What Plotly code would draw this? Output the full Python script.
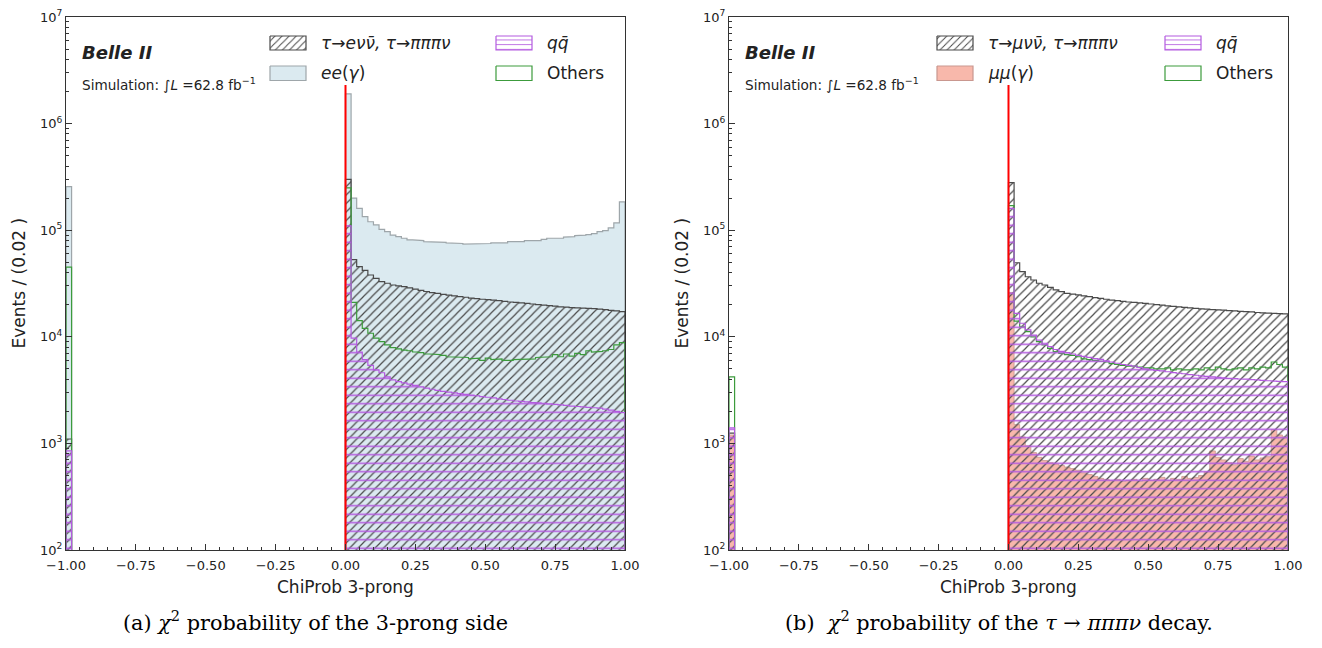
import numpy as np
import plotly.graph_objects as go

# ---------------------------------------------------------------- binning
BIN = 0.02
EDGES = np.round(np.arange(0.0, 1.0 + BIN / 2, BIN), 4)      # 0.00 ... 1.00
UNDER_EDGES = [-1.0, -0.98]                                    # first bin
Y_RANGE = [2, 7]                                               # log10 limits
FLOOR = 10.0                                                   # below the axis
CUT_X = 0.0
CUT_TOP = 2.3e6

x_ticks = [-1.0, -0.75, -0.5, -0.25, 0.0, 0.25, 0.5, 0.75, 1.0]
y_ticks = [1e2, 1e3, 1e4, 1e5, 1e6, 1e7]
y_tick_text = ["10<sup>2</sup>", "10<sup>3</sup>", "10<sup>4</sup>",
               "10<sup>5</sup>", "10<sup>6</sup>", "10<sup>7</sup>"]

# ------------------------------------------------ (a) tau -> e nu nu sample
ee_a = [1.9e6, 2.0e5, 1.6e5, 1.34e5, 1.2e5, 1.12e5, 1.02e5, 9.7e4, 9.0e4, 8.7e4,
        8.4e4, 8.1e4, 8.1e4, 8.0e4, 7.8e4, 7.8e4, 7.7e4, 7.7e4, 7.6e4, 7.5e4,
        7.5e4, 7.4e4, 7.5e4, 7.4e4, 7.5e4, 7.5e4, 7.6e4, 7.5e4, 7.6e4, 7.8e4,
        7.7e4, 7.8e4, 8.0e4, 8.1e4, 8.0e4, 8.2e4, 8.4e4, 8.5e4, 8.4e4, 8.6e4,
        8.7e4, 8.9e4, 9.0e4, 9.1e4, 9.3e4, 9.7e4, 9.9e4, 1.05e5, 1.17e5, 1.84e5]
tau_a = [3.0e5, 5.3e4, 4.55e4, 4.2e4, 3.8e4, 3.54e4, 3.29e4, 3.18e4, 3.06e4, 3.0e4,
         2.95e4, 2.88e4, 2.8e4, 2.72e4, 2.66e4, 2.6e4, 2.56e4, 2.5e4, 2.46e4, 2.42e4,
         2.38e4, 2.35e4, 2.31e4, 2.28e4, 2.25e4, 2.23e4, 2.21e4, 2.18e4, 2.15e4, 2.12e4,
         2.1e4, 2.08e4, 2.06e4, 2.03e4, 2.0e4, 1.98e4, 1.96e4, 1.94e4, 1.91e4, 1.9e4,
         1.88e4, 1.87e4, 1.86e4, 1.85e4, 1.84e4, 1.82e4, 1.8e4, 1.77e4, 1.75e4, 1.72e4]
others_a = [2.5e5, 2.1e4, 1.42e4, 1.2e4, 1.08e4, 9.7e3, 9.0e3, 8.4e3, 7.9e3, 7.7e3,
            7.5e3, 7.4e3, 7.2e3, 7.1e3, 6.9e3, 6.9e3, 6.8e3, 6.7e3, 6.5e3, 6.5e3,
            6.4e3, 6.4e3, 6.2e3, 6.3e3, 6.0e3, 6.3e3, 6.1e3, 6.2e3, 6.0e3, 6.0e3,
            6.1e3, 6.1e3, 6.2e3, 6.2e3, 6.4e3, 6.4e3, 6.5e3, 6.8e3, 6.5e3, 6.9e3,
            6.6e3, 7.0e3, 6.8e3, 7.4e3, 7.2e3, 7.3e3, 7.4e3, 7.6e3, 8.4e3, 8.8e3]
qq_a = [1.1e5, 9.7e3, 7.2e3, 6.1e3, 5.4e3, 4.9e3, 4.6e3, 4.2e3, 3.95e3, 3.8e3,
        3.7e3, 3.6e3, 3.5e3, 3.4e3, 3.3e3, 3.22e3, 3.15e3, 3.08e3, 3.03e3, 2.98e3,
        2.93e3, 2.88e3, 2.84e3, 2.8e3, 2.75e3, 2.71e3, 2.67e3, 2.62e3, 2.58e3, 2.54e3,
        2.5e3, 2.48e3, 2.45e3, 2.42e3, 2.4e3, 2.38e3, 2.35e3, 2.32e3, 2.3e3, 2.27e3,
        2.24e3, 2.22e3, 2.2e3, 2.18e3, 2.16e3, 2.14e3, 2.1e3, 2.05e3, 2.0e3, 1.95e3]
ee_a_under = [2.56e5]
tau_a_under = [1.1e3]
others_a_under = [4.5e4]
qq_a_under = [8.5e2]

# ----------------------------------------------- (b) tau -> mu nu nu sample
tau_b = [2.8e5, 4.95e4, 4.08e4, 3.66e4, 3.41e4, 3.18e4, 3.06e4, 2.91e4, 2.75e4, 2.65e4,
         2.56e4, 2.51e4, 2.47e4, 2.42e4, 2.38e4, 2.33e4, 2.29e4, 2.25e4, 2.21e4, 2.18e4,
         2.15e4, 2.12e4, 2.1e4, 2.08e4, 2.06e4, 2.03e4, 2.0e4, 1.98e4, 1.95e4, 1.93e4,
         1.91e4, 1.89e4, 1.87e4, 1.85e4, 1.83e4, 1.82e4, 1.8e4, 1.79e4, 1.78e4, 1.76e4,
         1.75e4, 1.73e4, 1.72e4, 1.71e4, 1.69e4, 1.68e4, 1.67e4, 1.66e4, 1.65e4, 1.64e4]
others_b = [1.7e5, 1.4e4, 1.24e4, 1.12e4, 1.0e4, 9.0e3, 8.4e3, 7.8e3, 7.25e3, 7.0e3,
            6.8e3, 6.7e3, 6.5e3, 6.2e3, 6.1e3, 6.0e3, 5.9e3, 5.8e3, 5.6e3, 5.5e3,
            5.4e3, 5.3e3, 5.3e3, 5.2e3, 5.1e3, 5.1e3, 5.0e3, 5.0e3, 5.1e3, 4.9e3,
            5.0e3, 4.9e3, 4.9e3, 5.0e3, 4.9e3, 5.1e3, 4.9e3, 5.2e3, 5.0e3, 4.9e3,
            5.0e3, 5.1e3, 4.9e3, 5.1e3, 5.0e3, 5.2e3, 5.1e3, 5.8e3, 5.5e3, 5.2e3]
qq_b = [1.6e5, 1.66e4, 1.34e4, 1.16e4, 1.04e4, 9.3e3, 8.7e3, 8.1e3, 7.6e3, 7.3e3,
        7.1e3, 6.9e3, 6.7e3, 6.55e3, 6.4e3, 6.25e3, 6.15e3, 5.95e3, 5.8e3, 5.65e3,
        5.5e3, 5.4e3, 5.3e3, 5.15e3, 5.0e3, 4.92e3, 4.85e3, 4.78e3, 4.7e3, 4.62e3,
        4.55e3, 4.5e3, 4.42e3, 4.36e3, 4.3e3, 4.25e3, 4.2e3, 4.16e3, 4.12e3, 4.08e3,
        4.05e3, 4.02e3, 4.0e3, 3.97e3, 3.94e3, 3.9e3, 3.87e3, 3.84e3, 3.82e3, 3.8e3]
mumu_b = [2.6e4, 1.5e3, 1.15e3, 9.5e2, 8.2e2, 7.4e2, 6.9e2, 6.6e2, 6.4e2, 6.2e2,
          6.0e2, 5.8e2, 5.6e2, 5.3e2, 5.1e2, 4.9e2, 4.7e2, 4.6e2, 4.5e2, 4.6e2,
          4.4e2, 4.5e2, 4.6e2, 4.4e2, 4.7e2, 4.5e2, 4.6e2, 4.8e2, 4.5e2, 4.7e2,
          4.6e2, 4.9e2, 4.7e2, 4.8e2, 5.0e2, 5.4e2, 8.5e2, 7.4e2, 7.0e2, 6.6e2,
          6.3e2, 7.2e2, 6.8e2, 7.6e2, 7.0e2, 7.3e2, 7.5e2, 1.35e3, 1.2e3, 1.15e3]
tau_b_under = [1.25e3]
others_b_under = [4.2e3]
qq_b_under = [1.4e3]
mumu_b_under = [1.2e3]

# ----------------------------------------------------------------- styles
C_EE = "#dbeaf0"
C_EE_EDGE = "#9ea6aa"
C_TAU = "#4a4a4a"
C_QQ = "#b45be0"
C_OTH = "#3c9b3c"
C_MUMU = "#f8b8ab"
C_MUMU_EDGE = "#c9978f"
C_CUT = "#ff0000"
C_AXIS = "#333333"
TXT = "#222222"
FONT = "DejaVu Sans"
SERIF = "DejaVu Serif"
W, H = 1322, 648


def step_outline(under_vals, vals):
    """Closed step polygons (underflow bin + main range) split by a gap."""
    xs, ys = [], []
    for edges, v in ((UNDER_EDGES, under_vals), (EDGES, vals)):
        xs.append(float(edges[0]))
        ys.append(FLOOR)
        for i, val in enumerate(v):
            xs += [float(edges[i]), float(edges[i + 1])]
            ys += [val, val]
        xs.append(float(edges[len(v)]))
        ys.append(FLOOR)
        xs.append(None)
        ys.append(None)
    return xs[:-1], ys[:-1]


def hist_trace(under_vals, vals, axis, line_color, fill_color=None,
               pattern=None, lw=1.2):
    xs, ys = step_outline(under_vals, vals)
    kw = dict(x=xs, y=ys, mode="lines", xaxis="x" + axis, yaxis="y" + axis,
              line=dict(color=line_color, width=lw), hoverinfo="skip",
              showlegend=False)
    if fill_color is not None or pattern is not None:
        kw["fill"] = "toself"
        kw["fillcolor"] = fill_color if fill_color else "rgba(0,0,0,0)"
        if pattern is not None:
            kw["fillpattern"] = pattern
    return go.Scatter(**kw)


HATCH_DIAG = dict(shape="/", fgcolor=C_TAU, bgcolor="rgba(0,0,0,0)",
                  size=6, solidity=0.2, fillmode="replace")
HATCH_HORZ = dict(shape="-", fgcolor=C_QQ, bgcolor="rgba(0,0,0,0)",
                  size=8.5, solidity=0.18, fillmode="replace")

fig = go.Figure()

# panel (a): drawn back to front
fig.add_trace(hist_trace(ee_a_under, ee_a, "", C_EE_EDGE, fill_color=C_EE))
fig.add_trace(hist_trace(tau_a_under, tau_a, "", C_TAU, pattern=HATCH_DIAG))
fig.add_trace(hist_trace(others_a_under, others_a, "", C_OTH))
fig.add_trace(hist_trace(qq_a_under, qq_a, "", C_QQ, pattern=HATCH_HORZ))
fig.add_trace(go.Scatter(x=[CUT_X, CUT_X], y=[FLOOR, CUT_TOP], mode="lines",
                         line=dict(color=C_CUT, width=2), xaxis="x", yaxis="y",
                         hoverinfo="skip", showlegend=False))

# panel (b)
fig.add_trace(hist_trace(mumu_b_under, mumu_b, "2", C_MUMU_EDGE, fill_color=C_MUMU, lw=0.8))
fig.add_trace(hist_trace(tau_b_under, tau_b, "2", C_TAU, pattern=HATCH_DIAG))
fig.add_trace(hist_trace(others_b_under, others_b, "2", C_OTH))
fig.add_trace(hist_trace(qq_b_under, qq_b, "2", C_QQ, pattern=HATCH_HORZ))
fig.add_trace(go.Scatter(x=[CUT_X, CUT_X], y=[FLOOR, CUT_TOP], mode="lines",
                         line=dict(color=C_CUT, width=2), xaxis="x2", yaxis="y2",
                         hoverinfo="skip", showlegend=False))

# ------------------------------------------------------------ legend boxes
def patch(x0, x1, y0, y1, line_color, fill_color=None, pattern=None):
    kw = dict(x=[x0, x1, x1, x0, x0], y=[y0, y0, y1, y1, y0], mode="lines",
              fill="toself", fillcolor=fill_color or "rgba(255,255,255,0)",
              line=dict(color=line_color, width=1.2), xaxis="x3", yaxis="y3",
              hoverinfo="skip", showlegend=False)
    if pattern is not None:
        kw["fillpattern"] = pattern
    return go.Scatter(**kw)


LEG_PAT_DIAG = dict(HATCH_DIAG, size=5)
LEG_PAT_HORZ = dict(HATCH_HORZ, size=4.7)
ROW1 = (36, 50)
ROW2 = (66, 80.5)

legend_a = [
    (270, "<i>τ→eνν̄, τ→πππν</i>", ROW1, C_TAU, None, LEG_PAT_DIAG),
    (270, "<i>ee</i>(<i>γ</i>)", ROW2, C_EE_EDGE, C_EE, None),
    (496, "<i>qq̄</i>", ROW1, C_QQ, None, LEG_PAT_HORZ),
    (496, "Others", ROW2, C_OTH, None, None),
]
legend_b = [
    (937, "<i>τ→μνν̄, τ→πππν</i>", ROW1, C_TAU, None, LEG_PAT_DIAG),
    (937, "<i>μμ</i>(<i>γ</i>)", ROW2, C_MUMU_EDGE, C_MUMU, None),
    (1165, "<i>qq̄</i>", ROW1, C_QQ, None, LEG_PAT_HORZ),
    (1165, "Others", ROW2, C_OTH, None, None),
]

annotations = []
for entries in (legend_a, legend_b):
    for x0, label, (y0, y1), lc, fc, pat in entries:
        fig.add_trace(patch(x0, x0 + 36, y0, y1, lc, fc, pat))
        annotations.append(dict(x=x0 + 49, y=(y0 + y1) / 2, xref="x3", yref="y3",
                                text=label, showarrow=False, xanchor="left",
                                yanchor="middle",
                                font=dict(family=FONT, size=17, color=TXT)))

# -------------------------------------------------------- panel texts
for x_left, x_mid in ((66, 345.5), (729, 1008.5)):
    annotations += [
        dict(x=x_left + 14, y=52, text="<b><i>Belle II</i></b>",
             font=dict(family=FONT, size=18, color=TXT)),
        dict(x=x_left + 14, y=84, text="Simulation: ∫<i>L</i> =62.8 fb<sup>−1</sup>",
             font=dict(family=FONT, size=13.6, color=TXT)),
    ]
    annotations.append(dict(x=x_mid, y=587, text="ChiProb 3-prong", xanchor="center",
                            font=dict(family=FONT, size=17, color=TXT)))
    annotations.append(dict(x=x_left - 48, y=283.5, text="Events / (0.02 )",
                            textangle=-90, xanchor="center",
                            font=dict(family=FONT, size=17, color=TXT)))

annotations.append(dict(x=315, y=621,
                        text="(a) <i>χ</i><sup>2</sup> probability of the 3-prong side",
                        xanchor="center", font=dict(family=SERIF, size=20.8, color="#000")))
annotations.append(dict(x=999, y=621,
                        text="(b)  <i>χ</i><sup>2</sup> probability of the <i>τ</i> → <i>πππν</i> decay.",
                        xanchor="center", font=dict(family=SERIF, size=20.8, color="#000")))

for a in annotations:
    a.setdefault("xref", "x3")
    a.setdefault("yref", "y3")
    a.setdefault("showarrow", False)
    a.setdefault("xanchor", "left")
    a.setdefault("yanchor", "middle")

# ------------------------------------------------------------------ axes
def xaxis_cfg(x0, x1, anchor):
    return dict(domain=[x0 / W, x1 / W], range=[-1, 1], anchor=anchor,
                automargin=False, ticklabelstandoff=3,
                tickmode="array", tickvals=x_ticks, tickformat=".2f",
                ticks="inside", ticklen=6, tickwidth=1, tickcolor=C_AXIS,
                minor=dict(ticks="inside", ticklen=3, dtick=0.05, tick0=0,
                           tickcolor=C_AXIS, showgrid=False),
                showline=True, mirror=True, linecolor=C_AXIS, linewidth=1.2,
                showgrid=False, zeroline=False,
                tickfont=dict(family=FONT, size=13, color=TXT))


minor_y = [m * 10 ** e for e in range(2, 7) for m in range(2, 10)]


def yaxis_cfg(anchor):
    return dict(domain=[1 - 550 / H, 1 - 17 / H], type="log", range=Y_RANGE,
                anchor=anchor, automargin=False,
                tickmode="array", tickvals=y_ticks,
                ticktext=y_tick_text, ticks="inside", ticklen=6, tickwidth=1,
                tickcolor=C_AXIS,
                minor=dict(ticks="inside", ticklen=3, tickmode="array",
                           tickvals=minor_y, tickcolor=C_AXIS, showgrid=False),
                showline=True, mirror=True, linecolor=C_AXIS, linewidth=1.2,
                showgrid=False, zeroline=False,
                tickfont=dict(family=FONT, size=13, color=TXT))


fig.update_layout(
    width=W, height=H, margin=dict(l=0, r=0, t=0, b=0, autoexpand=False),
    paper_bgcolor="white", plot_bgcolor="rgba(0,0,0,0)", showlegend=False,
    xaxis=xaxis_cfg(66, 625, "y"), yaxis=yaxis_cfg("x"),
    xaxis2=xaxis_cfg(729, 1288, "y2"), yaxis2=yaxis_cfg("x2"),
    xaxis3=dict(domain=[0, 1], range=[0, W], visible=False, anchor="y3",
                fixedrange=True, automargin=False),
    yaxis3=dict(domain=[0, 1], range=[H, 0], visible=False, anchor="x3",
                fixedrange=True, automargin=False),
    annotations=annotations,
    font=dict(family=FONT, color=TXT),
)

fig.write_html("out.html")
